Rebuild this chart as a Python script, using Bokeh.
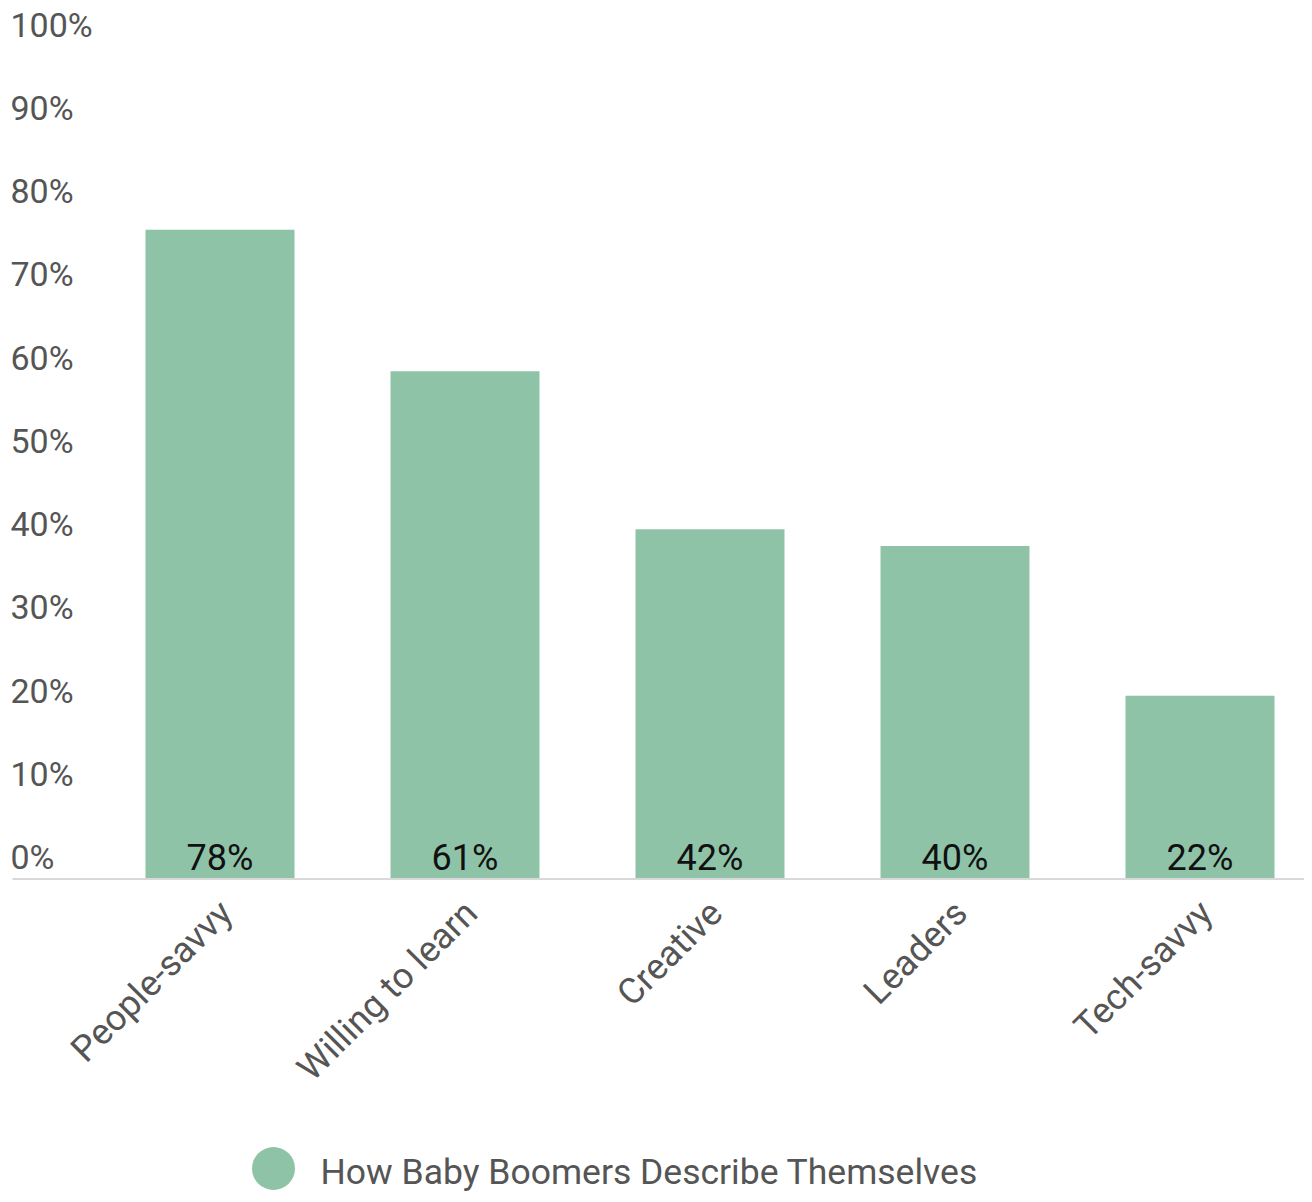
import math
from bokeh.plotting import figure
from bokeh.models import Range1d, ColumnDataSource
from bokeh.core.properties import value
from bokeh.embed import file_html
from bokeh.resources import INLINE

# ---------------- data ----------------
categories = ["People-savvy", "Willing to learn", "Creative", "Leaders", "Tech-savvy"]
values = [78, 61, 42, 40, 22]
value_labels = ["78%", "61%", "42%", "40%", "22%"]
y_ticks = [0, 10, 20, 30, 40, 50, 60, 70, 80, 90, 100]
y_tick_labels = ["0%", "10%", "20%", "30%", "40%", "50%", "60%", "70%", "80%", "90%", "100%"]
series_name = "How Baby Boomers Describe Themselves"

# ---------------- layout (pixels) ----------------
W, H = 1304, 1194
ZERO_PX = 878.5        # figure pixel row of value 0
PX_PER_UNIT = 8.325    # pixels per percentage point
FIRST_CENTER_PX = 219.5
STEP_PX = 245.0
BAR_PX = 149.0

def dx(px):
    return (px - FIRST_CENTER_PX) / STEP_PX

def dy(py):
    return (ZERO_PX - py) / PX_PER_UNIT

BAR_COLOR = "#8fc3a8"
GRAY_TEXT = "#555555"
FONT = "Roboto"

p = figure(width=W, height=H, output_backend="svg", toolbar_location=None,
           x_range=Range1d(dx(0), dx(W)), y_range=Range1d(dy(H), dy(0)),
           x_axis_location=None, y_axis_location=None,
           min_border=0, min_border_left=0, min_border_right=0,
           min_border_top=0, min_border_bottom=0)
p.outline_line_color = None
p.grid.visible = False
p.background_fill_color = "white"
p.border_fill_color = "white"

idx = list(range(len(categories)))
src = ColumnDataSource(dict(x=idx, top=values, cat=categories, lab=value_labels))

# bars
p.vbar(x="x", top="top", bottom=0, width=BAR_PX / STEP_PX, source=src,
       fill_color=BAR_COLOR, line_color=None)

# baseline
p.segment(x0=[dx(12)], y0=[0], x1=[dx(W)], y1=[0], line_color="#d9d9d9", line_width=2)

# y tick labels
tick_src = ColumnDataSource(dict(y=y_ticks, lab=y_tick_labels, x=[dx(0)] * len(y_ticks)))
p.text(x="x", y="y", text="lab", source=tick_src, x_offset=10, y_offset=-22,
       text_align="left", text_baseline="alphabetic",
       text_font=value(FONT), text_font_size="34px", text_color=GRAY_TEXT)

# value labels inside bars
p.text(x="x", y=0, text="lab", source=src, y_offset=-21,
       text_align="center", text_baseline="alphabetic",
       text_font=value(FONT), text_font_size="36px", text_color="#111111")

# category labels (rotated)
p.text(x="x", y=0, text="cat", source=src, x_offset=6, y_offset=28,
       angle=math.pi / 4, text_align="right", text_baseline="alphabetic",
       text_font=value(FONT), text_font_size="36px", text_color=GRAY_TEXT)

# legend
LEG_CX, LEG_CY = 273, 1168
p.scatter(x=[dx(LEG_CX)], y=[dy(LEG_CY)], size=43, marker="circle",
          fill_color=BAR_COLOR, line_color=None)
p.text(x=[dx(LEG_CX + 47)], y=[dy(LEG_CY + 3)], text=[series_name],
       text_align="left", text_baseline="alphabetic",
       text_font=value(FONT), text_font_size="35.5px", text_color=GRAY_TEXT)

open("out.html", "w").write(file_html(p, INLINE))
